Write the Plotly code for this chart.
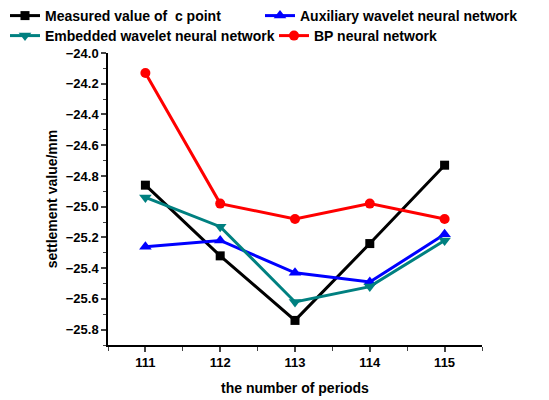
import plotly.graph_objects as go

periods = [111, 112, 113, 114, 115]
measured = [-24.86, -25.32, -25.74, -25.24, -24.73]
auxiliary = [-25.26, -25.22, -25.43, -25.49, -25.18]
embedded = [-24.94, -25.13, -25.62, -25.52, -25.22]
bp = [-24.13, -24.98, -25.08, -24.98, -25.08]

FONT = "Liberation Sans, Arial, sans-serif"

fig = go.Figure()
fig.add_trace(go.Scatter(x=periods, y=measured, name="Measured value of  c point",
                         mode="lines+markers", line=dict(color="black", width=3),
                         marker=dict(symbol="square", size=9, color="black"),
                         legend="legend", showlegend=True))
fig.add_trace(go.Scatter(x=periods, y=auxiliary, name="Auxiliary wavelet neural network",
                         mode="lines+markers", line=dict(color="#0000ff", width=3),
                         marker=dict(symbol="triangle-up", size=11, color="#0000ff"),
                         legend="legend2", showlegend=True))
fig.add_trace(go.Scatter(x=periods, y=embedded, name="Embedded wavelet neural network",
                         mode="lines+markers", line=dict(color="#008080", width=3),
                         marker=dict(symbol="triangle-down", size=11, color="#008080"),
                         legend="legend3", showlegend=True))
fig.add_trace(go.Scatter(x=periods, y=bp, name="BP neural network",
                         mode="lines+markers", line=dict(color="#ff0000", width=3),
                         marker=dict(symbol="circle", size=10, color="#ff0000"),
                         legend="legend4", showlegend=True))

legfont = dict(family=FONT, size=14, color="black", weight="bold")


def leg(xpx, ycenter_px):
    return dict(orientation="h", x=xpx / 549, y=1 - ycenter_px / 400,
                xref="container", yref="container",
                xanchor="left", yanchor="middle", font=legfont, bgcolor="rgba(0,0,0,0)",
                itemwidth=30)


fig.update_layout(
    width=549, height=400,
    showlegend=True,
    margin=dict(l=108, r=67, t=53, b=55, autoexpand=False),
    plot_bgcolor="white", paper_bgcolor="white",
    font=dict(family=FONT, size=13, color="black", weight="bold"),
    legend=leg(5, 16),
    legend2=leg(260, 16),
    legend3=leg(5, 36),
    legend4=leg(274, 36),
    xaxis=dict(range=[110.5, 115.5], tickvals=periods, ticks="outside", ticklen=5,
               tickwidth=1.5, showline=True, linecolor="black", linewidth=1.5,
               showgrid=False, zeroline=False, mirror=False,
               minor=dict(tickvals=[110.5, 111.5, 112.5, 113.5, 114.5, 115.5], ticks="outside", ticklen=4, tickwidth=1),
               title=dict(text="the number of periods", standoff=14,
                          font=dict(family=FONT, size=14, weight="bold")),
               tickfont=dict(family=FONT, size=13, weight="bold")),
    yaxis=dict(range=[-25.9, -24.0], dtick=0.2, tick0=-24.0, tickformat=".1f",
               ticks="outside", ticklen=5, tickwidth=1.5, showline=True,
               linecolor="black", linewidth=1.5, showgrid=False, zeroline=False,
               minor=dict(dtick=0.1, ticks="outside", ticklen=3, tickwidth=1),
               title=dict(text="settlement value/mm", standoff=5,
                          font=dict(family=FONT, size=14, weight="bold")),
               tickfont=dict(family=FONT, size=13, weight="bold")),
)
fig.write_html("out.html", config={"displayModeBar": False},
               post_script="document.body.style.margin='0';document.body.style.padding='0';")
